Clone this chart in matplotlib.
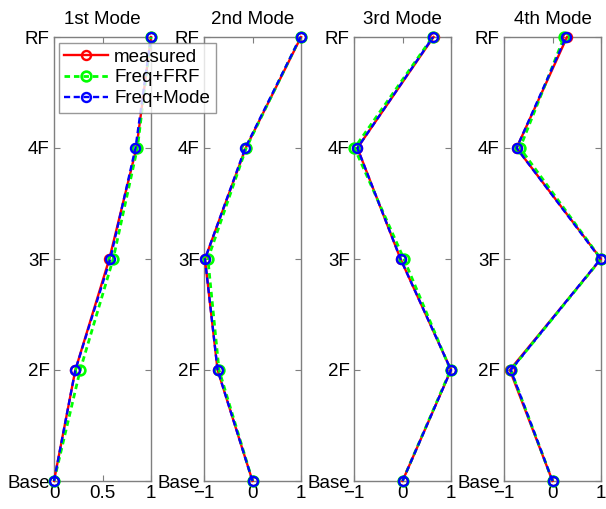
import numpy as np
import matplotlib
matplotlib.use('Agg')
import matplotlib.pyplot as plt

plt.rcParams['font.family'] = ['Liberation Sans', 'DejaVu Sans']

# floors, bottom to top
floors = ['Base', '2F', '3F', '4F', 'RF']
titles = ['1st Mode', '2nd Mode', '3rd Mode', '4th Mode']

# mode shape values (one list per mode, Base..RF)
measured = [
    [0, 0.22, 0.57, 0.85, 1.0],
    [0, -0.72, -0.98, -0.14, 1.0],
    [0, 1.0, -0.04, -0.93, 0.64],
    [0, -0.88, 1.0, -0.74, 0.30],
]
freq_frf = [
    [0, 0.27, 0.61, 0.86, 1.0],
    [0, -0.69, -0.92, -0.13, 0.99],
    [0, 0.99, 0.03, -0.99, 0.62],
    [0, -0.86, 1.0, -0.67, 0.24],
]
freq_mode = [
    [0, 0.22, 0.58, 0.84, 1.0],
    [0, -0.72, -0.98, -0.15, 0.99],
    [0, 1.0, -0.04, -0.93, 0.63],
    [0, -0.86, 0.99, -0.74, 0.28],
]
xlims = [(0, 1), (-1, 1), (-1, 1), (-1, 1)]
xticks = [[0, 0.5, 1], [-1, 0, 1], [-1, 0, 1], [-1, 0, 1]]

fig = plt.figure(figsize=(6.06, 5.09), dpi=100)
W, H = 606.0, 509.0
y = np.arange(len(floors))
grey = '#7f7f7f'
fs = 13.5

for i in range(4):
    left = 54 + 150 * i
    ax = fig.add_axes([left / W, 28 / H, 97 / W, 444 / H])
    ax.plot(measured[i], y, '-', color='red', lw=1.7, marker='o',
            ms=6.5, mfc='none', mec='red', mew=1.7, label='measured', clip_on=False, zorder=3)
    ax.plot(freq_frf[i], y, '--', color='#00ff00', lw=2.0, marker='o',
            ms=7, mfc='none', mec='#00ff00', mew=1.9, dashes=(2.0, 1.4),
            label='Freq+FRF', clip_on=False, zorder=4)
    ax.plot(freq_mode[i], y, '--', color='blue', lw=1.7, marker='o',
            ms=6.5, mfc='none', mec='blue', mew=1.7, dashes=(2.6, 1.5),
            label='Freq+Mode', clip_on=False, zorder=5)
    ax.set_xlim(*xlims[i])
    ax.set_ylim(0, 4)
    ax.set_xticks(xticks[i])
    ax.set_xticklabels(['0', '0.5', '1'] if i == 0 else ['\u22121', '0', '1'])
    ax.set_yticks(y)
    ax.set_yticklabels(floors)
    ax.tick_params(direction='in', length=4, width=0.8, color=grey,
                   top=True, right=True, labelsize=fs, pad=3)
    for sp in ax.spines.values():
        sp.set_color(grey)
        sp.set_linewidth(1.0)
    ax.set_title(titles[i], fontsize=fs, pad=9)
    if i == 0:
        # legend spills over the 2nd panel, so keep this axes on top
        ax.set_zorder(5)
        leg = ax.legend(loc='upper left', bbox_to_anchor=(0.05, 0.987),
                        fontsize=fs, frameon=True, fancybox=False,
                        handlelength=2.3, handletextpad=0.35,
                        borderpad=0.3, labelspacing=0.2, borderaxespad=0)
        leg.get_frame().set_edgecolor(grey)
        leg.get_frame().set_linewidth(1.0)
        leg.set_zorder(10)

fig.savefig('out.png', dpi=100)
